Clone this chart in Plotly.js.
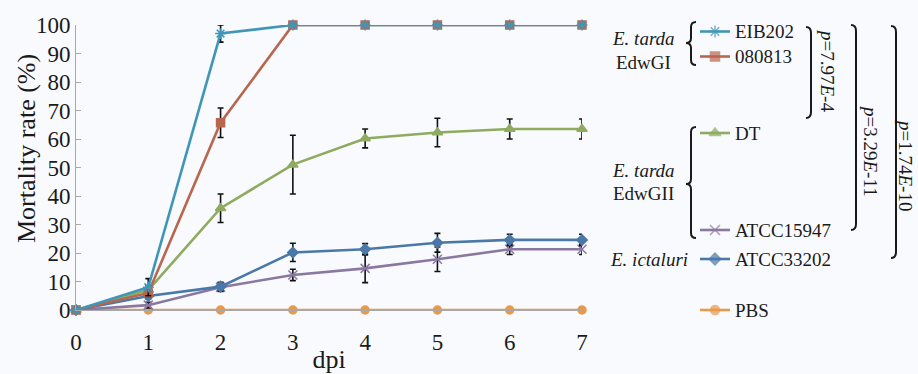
<!DOCTYPE html>
<html>
<head>
<meta charset="utf-8">
<script src="https://cdn.plot.ly/plotly-3.0.1.min.js"></script>
<style>html,body{margin:0;padding:0;background:#f9fafd;}</style>
</head>
<body>
<div id="chart" style="width:918px;height:374px;"></div>
<script>
// ---- data ----
const days = [0, 1, 2, 3, 4, 5, 6, 7];
const seriesNames = ['EIB202', '080813', 'DT', 'ATCC15947', 'ATCC33202', 'PBS'];
const eib202 = [0, 8, 97, 100, 100, 100, 100, 100];
const eib202Err = [0, 3, 3, 0, 0, 0, 0, 0];
const s080813 = [0, 6, 65.7, 100, 100, 100, 100, 100];
const s080813Err = [0, 1.5, 5.2, 0, 0, 0, 0, 0];
const dt = [0, 7, 35.7, 51, 60.2, 62.3, 63.5, 63.5];
const dtErr = [0, 1.5, 5, 10.3, 3.3, 5, 3.5, 3.5];
const atcc15947 = [0, 1.7, 8, 12.3, 14.6, 17.8, 21.3, 21.3];
const atcc15947Err = [0, 1, 1.5, 2, 5, 4.3, 1.8, 1.8];
const atcc33202 = [0, 4.9, 8.2, 20.2, 21.3, 23.6, 24.6, 24.6];
const atcc33202Err = [0, 1, 1.5, 3.2, 2, 3.3, 2, 2];
const pbs = [0, 0, 0, 0, 0, 0, 0, 0];
const pbsErr = [0, 0, 0, 0, 0, 0, 0, 0];
const xTitle = 'dpi';
const yTitle = 'Mortality rate (%)';
const pValues = ['<i>p</i>=7.97<i>E</i>-4', '<i>p</i>=3.29<i>E</i>-11', '<i>p</i>=1.74<i>E</i>-10'];
const groupLabels = [['<i>E. tarda</i>', 'EdwGI'], ['<i>E. tarda</i>', 'EdwGII'], ['<i>E. ictaluri</i>']];

// ---- styles ----
const W = 918, H = 374;
const FONT = '"Liberation Serif", "Times New Roman", Times, serif';
const BG = '#f9fafd';
const TXT = '#1a1a1a';
const styles = {
  'EIB202':    {color: '#3f96b8', symbol: 'asterisk-open', size: 9},
  '080813':    {color: '#b8674e', symbol: 'square', size: 8},
  'DT':        {color: '#8fab60', symbol: 'triangle-up', size: 9},
  'ATCC15947': {color: '#8a78a0', symbol: 'x-thin-open', size: 9},
  'ATCC33202': {color: '#4a78a8', symbol: 'diamond', size: 8},
  'PBS':       {color: '#e8994a', symbol: 'circle', size: 8}
};
const values = {'EIB202': eib202, '080813': s080813, 'DT': dt, 'ATCC15947': atcc15947, 'ATCC33202': atcc33202, 'PBS': pbs};
const errors = {'EIB202': eib202Err, '080813': s080813Err, 'DT': dtErr, 'ATCC15947': atcc15947Err, 'ATCC33202': atcc33202Err, 'PBS': pbsErr};
const drawOrder = ['PBS', 'ATCC15947', 'ATCC33202', 'DT', '080813', 'EIB202'];

// plot area in pixels
const plotL = 76, plotR = 582, plotT = 25, plotB = 310;

const traces = [];
drawOrder.forEach(name => {
  const st = styles[name];
  traces.push({
    type: 'scatter', mode: 'lines+markers', name: name,
    x: days, y: values[name], xaxis: 'x', yaxis: 'y',
    line: {color: st.color, width: 2.6},
    marker: {symbol: st.symbol, size: st.size, color: st.color, line: {color: st.color, width: 1.5}},
    error_y: {type: 'data', array: errors[name], visible: true, color: '#111', thickness: 1.6, width: 3},
    cliponaxis: false, showlegend: false, hoverinfo: 'x+y+name'
  });
});

// ---- custom legend (pixel coordinates on an overlay axis pair) ----
const legendRowY = {'EIB202': 31.5, '080813': 56.5, 'DT': 133, 'ATCC15947': 230, 'ATCC33202': 259, 'PBS': 310};
const legX0 = 700, legX1 = 730, legTextX = 733;
const annotations = [];
const shapes = [];
seriesNames.forEach(name => {
  const st = styles[name];
  const yy = legendRowY[name];
  traces.push({
    type: 'scatter', mode: 'lines+markers', xaxis: 'x2', yaxis: 'y2',
    x: [legX0, (legX0 + legX1) / 2, legX1], y: [yy, yy, yy],
    line: {color: st.color, width: 2.6},
    marker: {symbol: st.symbol, size: [0, st.size + 1, 0], color: st.color, line: {color: st.color, width: 1.5}},
    showlegend: false, hoverinfo: 'skip', cliponaxis: false
  });
  annotations.push({xref: 'x2', yref: 'y2', x: legTextX, y: yy, text: name, showarrow: false,
    xanchor: 'left', yanchor: 'middle', font: {family: FONT, size: 19, color: TXT}});
});

// group labels
const groupPos = [{x: 643, y: [38, 62]}, {x: 643, y: [170, 193]}, {x: 649, y: [259]}];
groupLabels.forEach((lines, i) => {
  lines.forEach((t, j) => {
    annotations.push({xref: 'x2', yref: 'y2', x: groupPos[i].x, y: groupPos[i].y[j], text: t, showarrow: false,
      xanchor: 'center', yanchor: 'middle', font: {family: FONT, size: 19, color: TXT}});
  });
});

// y-axis title placed like the reference
annotations.push({xref: 'x2', yref: 'y2', x: 26, y: 149, text: yTitle, textangle: -90, showarrow: false,
  xanchor: 'center', yanchor: 'middle', font: {family: FONT, size: 26, color: TXT}});

// curly braces
function bracePath(cx, y0, y1, ym) {
  const w = 5, r = 5;
  return `M ${cx + w},${y0} Q ${cx},${y0} ${cx},${y0 + r} L ${cx},${ym - r} Q ${cx},${ym} ${cx - w},${ym} ` +
         `Q ${cx},${ym} ${cx},${ym + r} L ${cx},${y1 - r} Q ${cx},${y1} ${cx + w},${y1}`;
}
[[691, 22, 65, 43], [691, 127, 238, 184]].forEach(b => {
  shapes.push({type: 'path', xref: 'x2', yref: 'y2', path: bracePath(b[0], b[1], b[2], b[3]),
    line: {color: TXT, width: 2}});
});

// right brackets with p-values
function bracketPath(x, y0, y1) {
  const w = 5, r = 6;
  return `M ${x - w},${y0} Q ${x},${y0} ${x},${y0 + r} L ${x},${y1 - r} Q ${x},${y1} ${x - w},${y1}`;
}
const brackets = [{x: 811, y0: 27, y1: 118, tx: 828, ty: 70},
                  {x: 856, y0: 25, y1: 230, tx: 871, ty: 151},
                  {x: 896, y0: 26, y1: 258, tx: 906, ty: 165}];
brackets.forEach((b, i) => {
  shapes.push({type: 'path', xref: 'x2', yref: 'y2', path: bracketPath(b.x, b.y0, b.y1),
    line: {color: TXT, width: 2}});
  annotations.push({xref: 'x2', yref: 'y2', x: b.tx, y: b.ty, text: pValues[i], textangle: 90, showarrow: false,
    xanchor: 'center', yanchor: 'middle', font: {family: FONT, size: 19, color: TXT}});
});

const layout = {
  width: W, height: H,
  margin: {l: 0, r: 0, t: 0, b: 0},
  paper_bgcolor: BG, plot_bgcolor: 'rgba(0,0,0,0)',
  showlegend: false,
  font: {family: FONT, color: TXT},
  xaxis: {
    domain: [plotL / W, plotR / W], anchor: 'y', range: [0, 7],
    tickvals: days, ticktext: days.map(String),
    showgrid: false, zeroline: false, showline: true, linecolor: '#a8a8a8', linewidth: 1,
    ticks: '', ticklabelstandoff: 11,
    tickfont: {family: FONT, size: 23, color: TXT},
    title: {text: xTitle, font: {family: FONT, size: 26, color: TXT}, standoff: 0},
    automargin: false, fixedrange: true
  },
  yaxis: {
    domain: [(H - plotB) / H, (H - plotT) / H], anchor: 'x', range: [0, 100],
    dtick: 10, tick0: 0,
    showgrid: false, zeroline: false, showline: true, linecolor: '#a8a8a8', linewidth: 1,
    ticks: 'inside', ticklen: 5, tickcolor: '#a8a8a8', tickwidth: 1,
    tickfont: {family: FONT, size: 23, color: TXT},
    automargin: false, fixedrange: true
  },
  xaxis2: {domain: [0, 1], anchor: 'y2', range: [0, W], visible: false, fixedrange: true},
  yaxis2: {domain: [0, 1], anchor: 'x2', range: [H, 0], visible: false, fixedrange: true},
  annotations: annotations,
  shapes: shapes
};

Plotly.newPlot('chart', traces, layout, {displayModeBar: false, staticPlot: true});
</script>
</body>
</html>
